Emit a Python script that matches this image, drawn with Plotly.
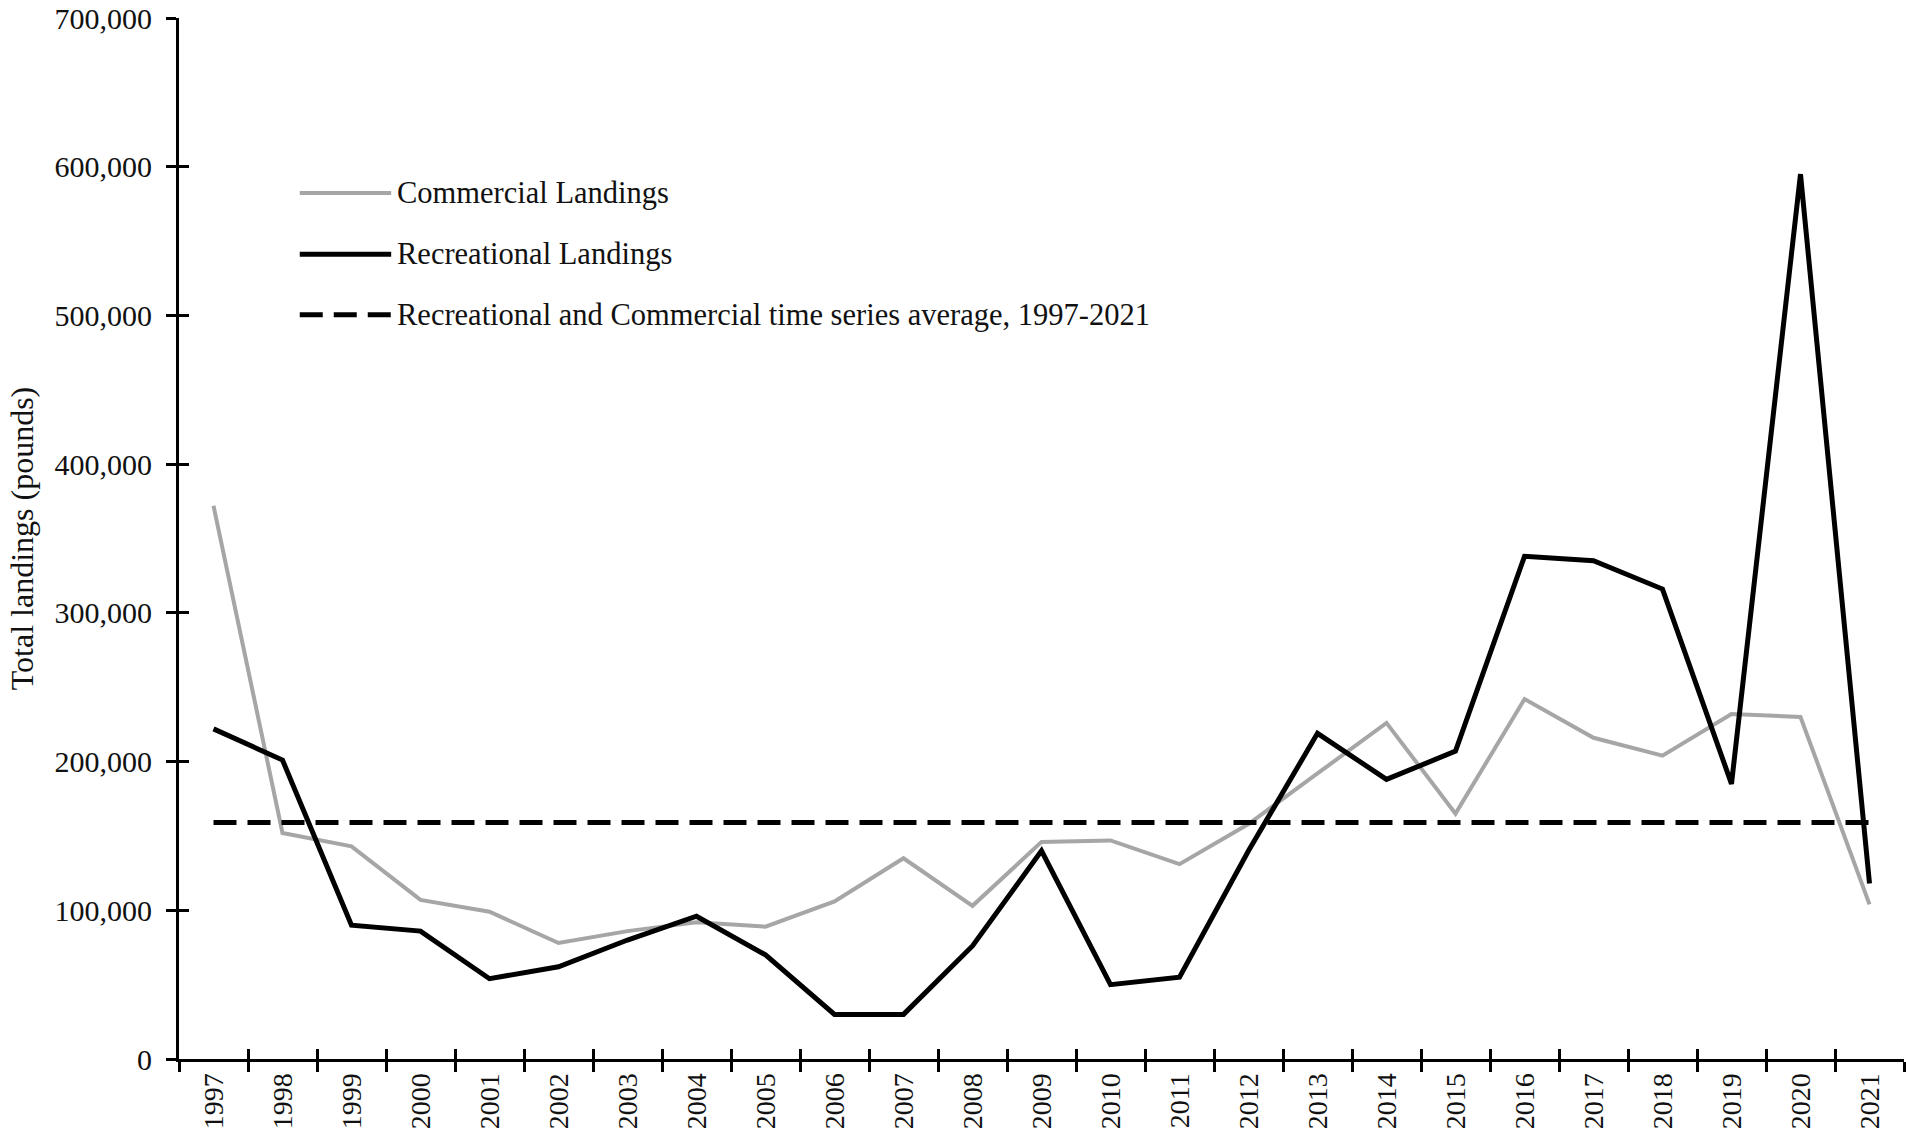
import plotly.graph_objects as go

years = [str(y) for y in range(1997, 2022)]
commercial = [372000, 152000, 143000, 107000, 99000, 78000, 86000, 92000, 89000, 106000,
              135000, 103000, 146000, 147000, 131000, 158000, 192000, 226000, 165000, 242000,
              216000, 204000, 232000, 230000, 104000]
recreational = [222000, 201000, 90000, 86000, 54000, 62000, 80000, 96000, 70000, 30000,
                30000, 76000, 140000, 50000, 55000, 140000, 219000, 188000, 207000, 338000,
                335000, 316000, 185000, 595000, 118000]
average = [159000] * len(years)

legend_labels = ["Commercial Landings", "Recreational Landings",
                 "Recreational and Commercial time series average, 1997-2021"]

FONT = "Liberation Serif, Times New Roman, serif"
GRAY = "#a6a6a6"
DASH = "23px,11px"

fig = go.Figure()
fig.add_trace(go.Scatter(x=years, y=commercial, mode="lines", name=legend_labels[0],
                         line=dict(color=GRAY, width=4)))
fig.add_trace(go.Scatter(x=years, y=recreational, mode="lines", name=legend_labels[1],
                         line=dict(color="black", width=5)))
fig.add_trace(go.Scatter(x=years, y=average, mode="lines", name=legend_labels[2],
                         line=dict(color="black", width=5, dash=DASH)))

# hand-drawn legend (long line samples like the original)
legend_styles = [dict(color=GRAY, width=4), dict(color="black", width=5),
                 dict(color="black", width=5, dash=DASH)]
legend_y = [0.832, 0.773, 0.715]
for label, style, ly in zip(legend_labels, legend_styles, legend_y):
    fig.add_shape(type="line", xref="paper", yref="paper", x0=0.070, x1=0.123, y0=ly, y1=ly,
                  line=style)
    fig.add_annotation(xref="paper", yref="paper", x=0.1255, y=ly, text=label, showarrow=False,
                       xanchor="left", yanchor="middle", font=dict(size=30.5, color="#111"))

axis_common = dict(showline=True, linecolor="black", linewidth=3, ticks="outside",
                   ticklen=10, tickwidth=3, tickcolor="black", showgrid=False, zeroline=False)

fig.update_layout(
    width=1906, height=1145,
    margin=dict(l=179, r=2, t=18, b=86),
    paper_bgcolor="white", plot_bgcolor="white",
    font=dict(family=FONT, size=29, color="#111"),
    showlegend=False,
    xaxis=dict(type="category", categoryarray=years, range=[-0.5, 24.5], tickangle=-90,
               tickson="boundaries", tickfont=dict(size=28), **axis_common),
    yaxis=dict(range=[0, 700000], dtick=100000, tickformat=",d", ticklabelstandoff=8,
               ticklabeloverflow="allow", tickfont=dict(size=30),
               title=dict(text="Total landings (pounds)", font=dict(size=32), standoff=12),
               **axis_common),
    # second set of axes gives the ticks that cross the axis lines
    xaxis2=dict(type="category", categoryarray=years, range=[-0.5, 24.5], overlaying="x",
                anchor="y", showticklabels=False, ticks="inside", ticklen=10, tickwidth=3,
                tickcolor="black", tickson="boundaries", showgrid=False, zeroline=False,
                showline=False),
    yaxis2=dict(range=[0, 700000], dtick=100000, overlaying="y", anchor="x",
                showticklabels=False, ticks="inside", ticklen=10, tickwidth=3,
                tickcolor="black", showgrid=False, zeroline=False, showline=False),
)
fig.add_trace(go.Scatter(x=years, y=average, xaxis="x2", yaxis="y2", mode="lines",
                         line=dict(width=0), hoverinfo="skip", showlegend=False))

# drop the browser's default body margin so the figure fills the window exactly
fig.write_html("out.html", config={"displayModeBar": False},
               post_script="document.body.style.margin = '0';")
